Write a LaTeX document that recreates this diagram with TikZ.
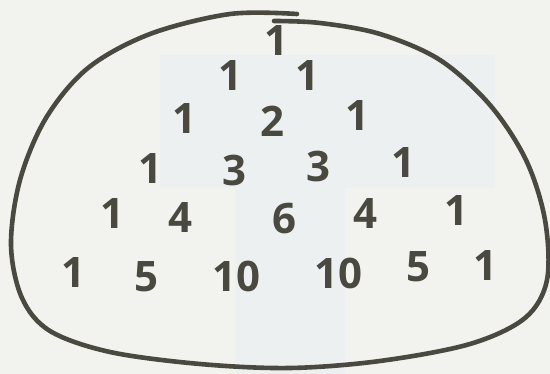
\documentclass[tikz,border=0pt]{standalone}
\usepackage{fontspec}
\setmainfont{Open Sans}
\definecolor{paper}{HTML}{F2F2EE}
\definecolor{tint}{HTML}{EDF0F1}
\definecolor{ink}{HTML}{4A4940}
\tikzset{
  num/.style={text=ink, font=\bfseries\fontsize{42}{42}\selectfont, inner sep=0pt},
  outline/.style={draw=ink, line width=4.6pt, line cap=round, line join=round}
}
\begin{document}
\begin{tikzpicture}[x=1pt,y=-1pt]
\fill[paper] (0,0) rectangle (550,374);
\useasboundingbox (0,0) rectangle (550,374);
\fill[tint] (160,55) rectangle (495,188);
\fill[tint] (235,188) rectangle (345,374);
% outline
\draw[outline] plot[smooth, tension=0.55] coordinates {
 (297,14) (230,14) (150,34) (88,68) (46,118) (20,180) (11,245) (22,298)
 (50,331) (110,352) (200,364) (290,368) (380,361) (470,344) (525,318)
 (547,280) (545,220) (526,160) (490,105) (440,60) (380,34) (320,23) (274,21)};
% numbers
\node[num] (r0a) at (276,41) {1};
\node[num] (r1a) at (230,76) {1};
\node[num] (r1b) at (307,76) {1};
\node[num] (r2a) at (184,119) {1};
\node[num] (r2b) at (272,121) {2};
\node[num] (r2c) at (357,116) {1};
\node[num] (r3a) at (150,169) {1};
\node[num] (r3b) at (234,171) {3};
\node[num] (r3c) at (318,167) {3};
\node[num] (r3d) at (403,163) {1};
\node[num] (r4a) at (112,214) {1};
\node[num] (r4b) at (180,218) {4};
\node[num] (r4c) at (284,219) {6};
\node[num] (r4d) at (365,214) {4};
\node[num] (r4e) at (456,211) {1};
\node[num] (r5a) at (73,273) {1};
\node[num] (r5b) at (146,277) {5};
\node[num] (r5c) at (236,276) {10};
\node[num] (r5d) at (338,273) {10};
\node[num] (r5e) at (418,267) {5};
\node[num] (r5f) at (485,266) {1};
\end{tikzpicture}
\end{document}
